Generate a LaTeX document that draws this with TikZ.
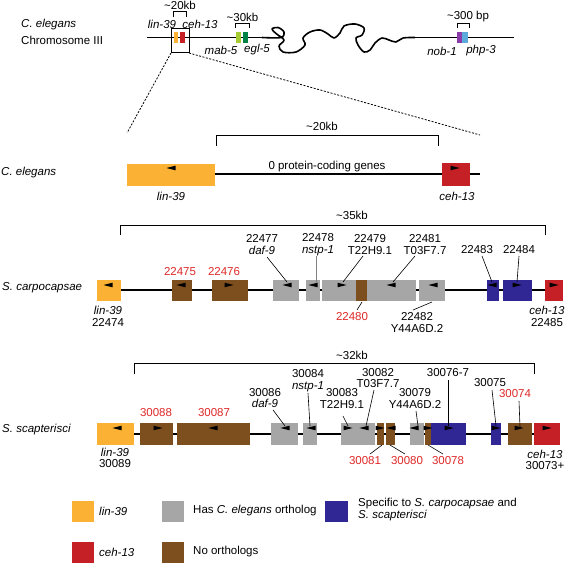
\documentclass[tikz,border=0pt]{standalone}
\usepackage{fontspec}
\setmainfont{Liberation Sans}
\definecolor{corange}{RGB}{251,178,52}
\definecolor{cred}{RGB}{196,32,38}
\definecolor{cgray}{RGB}{166,166,166}
\definecolor{cbrown}{RGB}{125,78,30}
\definecolor{cblue}{RGB}{48,38,148}
\definecolor{lgreen}{RGB}{168,204,52}
\definecolor{dgreen}{RGB}{0,130,70}
\definecolor{cpurple}{RGB}{140,60,170}
\definecolor{clblue}{RGB}{90,170,220}
\definecolor{tred}{RGB}{222,40,40}
\newcommand{\arL}[2]{\fill[black] ({#1-4.5},#2) -- ({#1+4.5},{#2-2.3}) -- ({#1+4.5},{#2+2.3}) -- cycle;}
\newcommand{\arR}[2]{\fill[black] ({#1+4.5},#2) -- ({#1-4.5},{#2-2.3}) -- ({#1-4.5},{#2+2.3}) -- cycle;}
\begin{document}
\begin{tikzpicture}[x=1pt,y=-1pt,
  every node/.style={inner sep=0pt, font=\fontsize{11.5}{11.5}\selectfont, align=center},
  it/.style={font=\fontsize{11.5}{11.5}\selectfont\itshape},
  redlbl/.style={text=tred},
  chrom/.style={line width=1.6pt},
  brk/.style={line width=1pt},
  lead/.style={line width=0.6pt},
  zoomline/.style={line width=0.8pt, dash pattern=on 2pt off 1.5pt}]
\useasboundingbox (0,0) rectangle (567,564);

% ---------- top chromosome ----------
\node[anchor=west, it] (celeg) at (21,25) {C. elegans};
\node[anchor=west] (chrom3) at (21,40) {Chromosome III};
\draw[chrom] (147,37.5) -- (262,37.5);
\draw[chrom, line join=round] plot[smooth, tension=0.55] coordinates {(262,37.5) (281,37.5) (284,32) (278,27.5) (272,29) (276,33.5) (284,40) (279,46) (283,52) (296,52) (305,45) (303,38) (310,32) (320,30) (328,34) (334,38) (340,33) (344,26) (355,24) (364,28) (362,35) (356,38) (358,45) (364,52) (370,50) (375,43) (382,38) (389,40) (396,42) (403,38) (415,37.5)};
\draw[chrom] (415,37.5) -- (514,37.5);
\fill[corange] (173.5,32) rectangle (177.7,43);
\fill[cred] (180,32) rectangle (185,43);
\fill[lgreen] (235.7,32) rectangle (240.7,43);
\fill[dgreen] (242.7,32) rectangle (248.3,43);
\fill[cpurple] (456.7,32) rectangle (461.7,43);
\fill[clblue] (462.3,32) rectangle (467.7,43);
\draw[line width=1pt] (171,29) rectangle (189,53);
\draw[brk] (173,17) -- (173,12) -- (186,12) -- (186,17);
\node (t20) at (180,5) {\char`\~20kb};
\draw[brk] (235,28.5) -- (235,24) -- (249,24) -- (249,28.5);
\node (t30) at (242.5,17) {\char`\~30kb};
\draw[brk] (457,28.5) -- (457,24) -- (469,24) -- (469,28.5);
\node (t300) at (468,17) {\char`\~300 bp};
\node[it] (tlin) at (162,24) {lin-39};
\node[it] (tceh) at (200,24) {ceh-13};
\node[it] (tmab) at (221,50) {mab-5};
\node[it] (tegl) at (257,50) {egl-5};
\node[it] (tnob) at (442,51) {nob-1};
\node[it] (tphp) at (481,51) {php-3};
\coordinate (zbl) at (171,53);
\coordinate (zbr) at (189,53);
\coordinate (zl) at (127,133);
\coordinate (zr) at (480,135);
\draw[zoomline] (zbl) -- (zl);
\draw[zoomline] (zbr) -- (zr);

% ---------- C. elegans ----------
\node[anchor=west, it] (rowA) at (1,173) {C. elegans};
\draw[chrom] (215,174) -- (480,174);
\fill[corange] (127,164) rectangle (215,186);
\fill[cred] (442,163) rectangle (470,186);
\arL{171}{168}
\arR{455}{168}
\draw[brk] (216,146) -- (216,136) -- (438,136) -- (438,146);
\node (a20) at (322,126) {\char`\~20kb};
\node (a0) at (327,167) {0 protein-coding genes};
\node[it] (alin) at (171,196) {lin-39};
\node[it] (aceh) at (457,196) {ceh-13};

% ---------- S. carpocapsae ----------
\node[anchor=west, it] (rowB) at (2,288) {S. carpocapsae};
\draw[chrom] (110,290) -- (555,290);
\fill[corange] (97,280) rectangle (121,301);
\fill[cbrown] (172,280) rectangle (192,301);
\fill[cbrown] (212,280) rectangle (248,301);
\fill[cgray] (273,280) rectangle (299,301);
\fill[cgray] (306,280) rectangle (320,301);
\fill[cgray] (322,280) rectangle (356,301);
\fill[cbrown] (356,280) rectangle (367,301);
\fill[cgray] (367,280) rectangle (416,301);
\fill[cgray] (419,280) rectangle (445,301);
\fill[cblue] (487,280) rectangle (499,301);
\fill[cblue] (503,280) rectangle (532,301);
\fill[cred] (545,280) rectangle (563,301);
\arL{108}{285} \arL{181}{285} \arR{229}{285} \arL{287}{285} \arL{313}{285}
\arR{342}{285} \arL{391}{285} \arL{433}{285} \arL{492}{285} \arR{517}{285} \arR{554}{285}
\draw[brk] (120,235) -- (120,225) -- (545,225) -- (545,235);
\node (b35) at (352,215) {\char`\~35kb};
\node[redlbl] (b475) at (180,272) {22475};
\node[redlbl] (b476) at (224,272) {22476};
\node (b477) at (262,244.5) {22477\\\textit{daf-9}};
\node (b478) at (318,244.5) {22478\\\textit{nstp-1}};
\node (b479) at (370,244.5) {22479\\T22H9.1};
\node (b481) at (425,244.5) {22481\\T03F7.7};
\node (b483) at (477,250) {22483};
\node (b484) at (519,250) {22484};
\node[redlbl] (b480) at (352,317) {22480};
\node (b482) at (417,322.5) {22482\\Y44A6D.2};
\node (b474) at (108,316.5) {\textit{lin-39}\\22474};
\node (b485) at (547,316.5) {\textit{ceh-13}\\22485};
\coordinate (g477) at (287,282); \draw[lead] (267,257) -- (g477);
\coordinate (g478) at (316,282); \draw[lead, draw=gray] (316,256) -- (g478);
\coordinate (g479) at (343,282); \draw[lead] (363,256) -- (g479);
\coordinate (g481) at (393,282); \draw[lead] (415,256) -- (g481);
\coordinate (g483) at (492,282); \draw[lead] (482,256) -- (g483);
\coordinate (g484) at (517,282); \draw[lead] (519,256) -- (g484);
\coordinate (g480) at (362,302); \draw[lead] (357,310) -- (g480);
\coordinate (g482) at (432,302); \draw[lead] (413,310) -- (g482);

% ---------- S. scapterisci ----------
\node[anchor=west, it] (rowC) at (2,430) {S. scapterisci};
\draw[chrom] (110,434) -- (555,434);
\fill[corange] (97,423) rectangle (134,445);
\fill[cbrown] (140,423) rectangle (173,445);
\fill[cbrown] (177,423) rectangle (250,445);
\fill[cgray] (271,423) rectangle (298,445);
\fill[cgray] (303,423) rectangle (317,445);
\fill[cgray] (341,423) rectangle (375,445);
\fill[cbrown] (377,423) rectangle (384,445);
\fill[cbrown] (386,423) rectangle (395,445);
\fill[cgray] (410,423) rectangle (424,445);
\fill[cbrown] (425,423) rectangle (431,445);
\fill[cblue] (431,423) rectangle (466,445);
\fill[cblue] (491,423) rectangle (501,445);
\fill[cbrown] (508,423) rectangle (532,445);
\fill[cred] (534,423) rectangle (560,445);
\arL{117}{428} \arR{158}{428} \arL{213}{428} \arL{285}{428} \arL{311}{428}
\arR{348}{428} \arL{364}{428} \arR{380}{428} \arL{391}{428} \arL{414}{428}
\arR{428}{428} \arR{449}{428} \arR{496}{428} \arR{519}{428} \arR{547}{428}
\draw[brk] (134,374) -- (134,363) -- (534,363) -- (534,374);
\node (c32) at (352,355) {\char`\~32kb};
\node[redlbl] (c088) at (156,413) {30088};
\node[redlbl] (c087) at (214,413) {30087};
\node (c086) at (265,398) {30086\\\textit{daf-9}};
\node (c084) at (308,380.5) {30084\\\textit{nstp-1}};
\node (c083) at (342,398.5) {30083\\T22H9.1};
\node (c082) at (378,378) {30082\\T03F7.7};
\node (c079) at (415,398.5) {30079\\Y44A6D.2};
\node (c0767) at (448,373) {30076-7};
\node (c075) at (490,383) {30075};
\node[redlbl] (c074) at (515,394) {30074};
\node[redlbl] (c081) at (365,461) {30081};
\node[redlbl] (c080) at (407,461) {30080};
\node[redlbl] (c078) at (448,461) {30078};
\node (c089) at (115,458) {\textit{lin-39}\\30089};
\node (c073) at (545,460) {\textit{ceh-13}\\30073+};
\coordinate (h086) at (285,426); \draw[lead] (273,410) -- (h086);
\coordinate (h084) at (310,426); \draw[lead] (308,393) -- (h084);
\coordinate (h083) at (348,426); \draw[lead] (343,416) -- (h083);
\coordinate (h082) at (366,426); \draw[lead] (374,390) -- (h082);
\coordinate (h079) at (418,426); \draw[lead] (416,411) -- (h079);
\coordinate (h0767) at (448,426); \draw[lead] (448,380) -- (h0767);
\coordinate (h075) at (496,426); \draw[lead] (492,390) -- (h075);
\coordinate (h074) at (520,427); \draw[lead] (519,401) -- (h074);
\coordinate (h081) at (382,445); \draw[lead] (370,454) -- (h081);
\coordinate (h080) at (390,445); \draw[lead] (405,454) -- (h080);
\coordinate (h078) at (428,445); \draw[lead] (443,454) -- (h078);

% ---------- legend ----------
\fill[corange] (72,501) rectangle (94,522);
\node[anchor=west, it] (leg1) at (99,511) {lin-39};
\fill[cgray] (162,501) rectangle (184,522);
\node[anchor=west] (leg2) at (193,511) {Has \textit{C. elegans} ortholog};
\fill[cblue] (325,501) rectangle (348,522);
\node[anchor=west, align=left] (leg3) at (358,509.5) {Specific to \textit{S. carpocapsae} and\\\textit{S. scapterisci}};
\fill[cred] (72,542) rectangle (94,563);
\node[anchor=west, it] (leg4) at (99,552) {ceh-13};
\fill[cbrown] (162,542) rectangle (184,563);
\node[anchor=west] (leg5) at (193,552) {No orthologs};
\end{tikzpicture}
\end{document}
